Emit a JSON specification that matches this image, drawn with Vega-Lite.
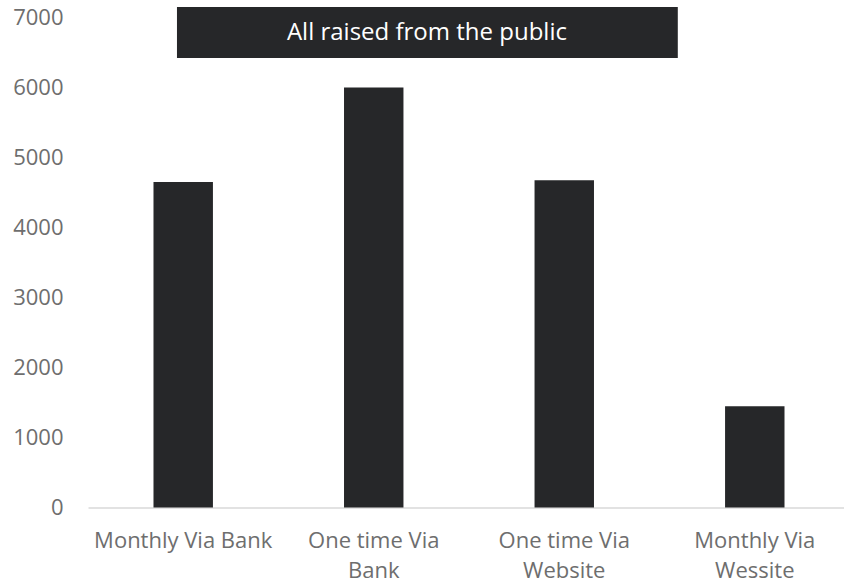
{
  "$schema": "https://vega.github.io/schema/vega-lite/v6.json",
  "autosize": "none",
  "padding": {"left": 88, "top": 17.5, "right": 0, "bottom": 79.5},
  "width": 756,
  "height": 490,
  "background": "white",
  "config": {
    "view": {"stroke": null},
    "font": "Open Sans"
  },
  "datasets": {
    "bars": [
      {"category": "Monthly Via Bank", "amount": 4650},
      {"category": "One time Via Bank", "amount": 6000},
      {"category": "One time Via Website", "amount": 4675},
      {"category": "Monthly Via Wessite", "amount": 1445}
    ],
    "banner": [
      {"label": "All raised from the public", "top": 7150, "bottom": 6420, "mid": 6780}
    ]
  },
  "layer": [
    {
      "data": {"name": "bars"},
      "mark": {"type": "bar", "color": "#262729"},
      "encoding": {
        "x": {
          "field": "category",
          "type": "nominal",
          "sort": null,
          "scale": {"paddingInner": 0.688, "paddingOuter": 0.328, "align": 0.524},
          "axis": {
            "title": null,
            "labelAngle": 0,
            "labelFontSize": 22,
            "labelColor": "#6e6e6e",
            "labelPadding": 23,
            "labelLineHeight": 30,
            "labelLimit": 0,
            "ticks": false,
            "domainColor": "#d9d9d9",
            "domainWidth": 1.5,
            "labelExpr": "datum.value == 'Monthly Via Bank' ? datum.value : [slice(datum.value, 0, lastindexof(datum.value, ' ')), slice(datum.value, lastindexof(datum.value, ' ') + 1)]"
          }
        },
        "y": {
          "field": "amount",
          "type": "quantitative",
          "scale": {"domain": [0, 7000], "nice": false},
          "axis": {
            "title": null,
            "values": [0, 1000, 2000, 3000, 4000, 5000, 6000, 7000],
            "format": "d",
            "grid": false,
            "domain": false,
            "ticks": false,
            "labelFontSize": 22,
            "labelColor": "#6e6e6e",
            "labelPadding": 25
          }
        }
      }
    },
    {
      "data": {"name": "banner"},
      "mark": {"type": "rect", "color": "#262729"},
      "encoding": {
        "x": {"datum": "Monthly Via Bank", "type": "nominal", "bandPosition": 0.395},
        "x2": {"datum": "One time Via Website", "bandPosition": 2.41},
        "y": {"field": "top", "type": "quantitative"},
        "y2": {"field": "bottom"}
      }
    },
    {
      "data": {"name": "banner"},
      "mark": {"type": "text", "color": "white", "fontSize": 24, "font": "Open Sans", "align": "center", "baseline": "middle"},
      "encoding": {
        "x": {"datum": "One time Via Bank", "type": "nominal", "bandPosition": 1.395},
        "y": {"field": "mid", "type": "quantitative"},
        "text": {"field": "label"}
      }
    }
  ]
}
